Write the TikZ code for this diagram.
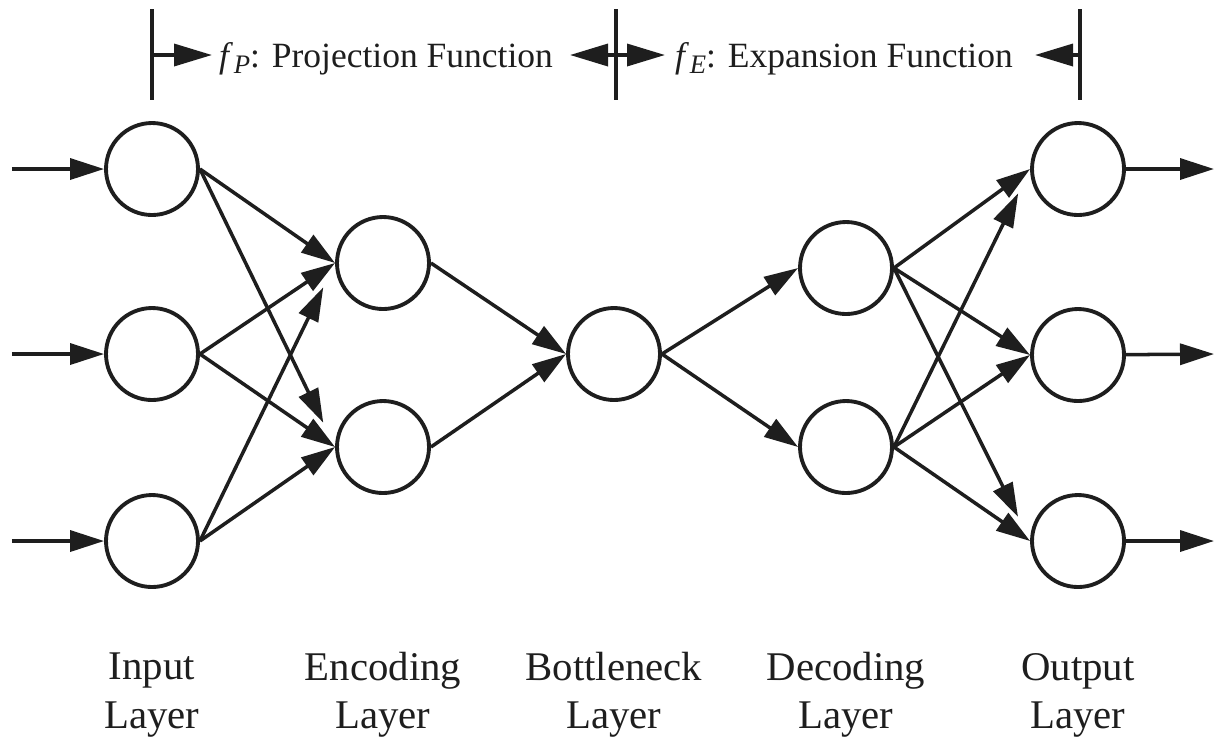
\documentclass[tikz,border=0pt]{standalone}
\usepackage{fontspec}
\setmainfont{Liberation Serif}
\usetikzlibrary{arrows.meta}

\definecolor{ink}{HTML}{1E1E1E}
\newcommand{\fsub}[1]{\textit{f}\kern0.02em\raisebox{-0.4ex}{\fontsize{7.6}{8}\selectfont\textit{#1}}}

\begin{document}
\begin{tikzpicture}[
    neuron/.style={draw=ink, circle, line width=1.1pt, minimum size=0.92cm, inner sep=0pt},
    conn/.style={draw=ink, line width=1pt, -{Triangle[length=0.34cm, width=0.21cm]}},
    dimarrow/.style={draw=ink, line width=1pt, -{Triangle[length=0.38cm, width=0.22cm]}},
    bar/.style={draw=ink, line width=1pt},
    lbl/.style={font=\fontsize{11.6}{13.7}\selectfont, align=center, inner sep=0pt, text=ink},
    fn/.style={font=\fontsize{10.1}{12}\selectfont, anchor=base, inner sep=0pt, text=ink}]
    \useasboundingbox (0,0) rectangle (12.16,-7.38);

    % layers of neurons
    \foreach \y [count=\i] in {1.69,3.54,5.41}
       \node[neuron] (in\i) at (1.52,-\y) {};
    \foreach \y [count=\i] in {2.63,4.47}
       \node[neuron] (enc\i) at (3.83,-\y) {};
    \node[neuron] (bn) at (6.14,-3.54) {};
    \foreach \y [count=\i] in {2.68,4.47}
       \node[neuron] (dec\i) at (8.46,-\y) {};
    \foreach \y [count=\i] in {1.69,3.55,5.41}
       \node[neuron] (out\i) at (10.78,-\y) {};

    % inputs and outputs
    \foreach \y [count=\i] in {1.69,3.54,5.41} {
       \coordinate (src\i) at (0.12,-\y);
       \coordinate (dst\i) at (12.14,-\y);
       \draw[conn] (src\i) -- (in\i);
       \draw[conn] (out\i) -- (dst\i);
    }

    % connections
    \foreach \a/\b/\s in {1/1/0,1/2/0.27,2/1/0,2/2/0,3/1/0.27,3/2/0}
       \draw[conn, shorten >=\s cm] (in\a.east) -- (enc\b.west);
    \foreach \a in {1,2} {
       \draw[conn] (enc\a.east) -- (bn.west);
       \draw[conn] (bn.east) -- (dec\a.west);
    }
    \foreach \a/\b/\s in {1/1/0,1/2/0,1/3/0.27,2/1/0.27,2/2/0,2/3/0}
       \draw[conn, shorten >=\s cm] (dec\a.east) -- (out\b.west);

    % function ranges
    \foreach \x [count=\i] in {1.52,6.16,10.80} {
       \coordinate (top\i) at (\x,-0.09);
       \coordinate (bot\i) at (\x,-1.00);
       \coordinate (mid\i) at (\x,-0.55);
       \draw[bar] (top\i) -- (bot\i);
    }
    \coordinate (tipP) at (2.12,-0.55);
    \coordinate (tipPr) at (5.70,-0.55);
    \coordinate (tipE) at (6.65,-0.55);
    \coordinate (tipEr) at (10.35,-0.55);
    \draw[dimarrow] (mid1) -- (tipP);
    \draw[dimarrow] (mid2) -- (tipPr);
    \draw[dimarrow] (mid2) -- (tipE);
    \draw[dimarrow] (mid3) -- (tipEr);
    \node[fn] (fP) at (3.86,-0.67) {\fsub{P}: Projection Function};
    \node[fn] (fE) at (8.44,-0.67) {\fsub{E}: Expansion Function};

    % layer names
    \node[lbl] (lin) at (1.52,-6.95) {Input\\Layer};
    \node[lbl] (lenc) at (3.83,-6.95) {Encoding\\Layer};
    \node[lbl] (lbn) at (6.14,-6.95) {Bottleneck\\Layer};
    \node[lbl] (ldec) at (8.46,-6.95) {Decoding\\Layer};
    \node[lbl] (lout) at (10.78,-6.95) {Output\\Layer};
\end{tikzpicture}
\end{document}
